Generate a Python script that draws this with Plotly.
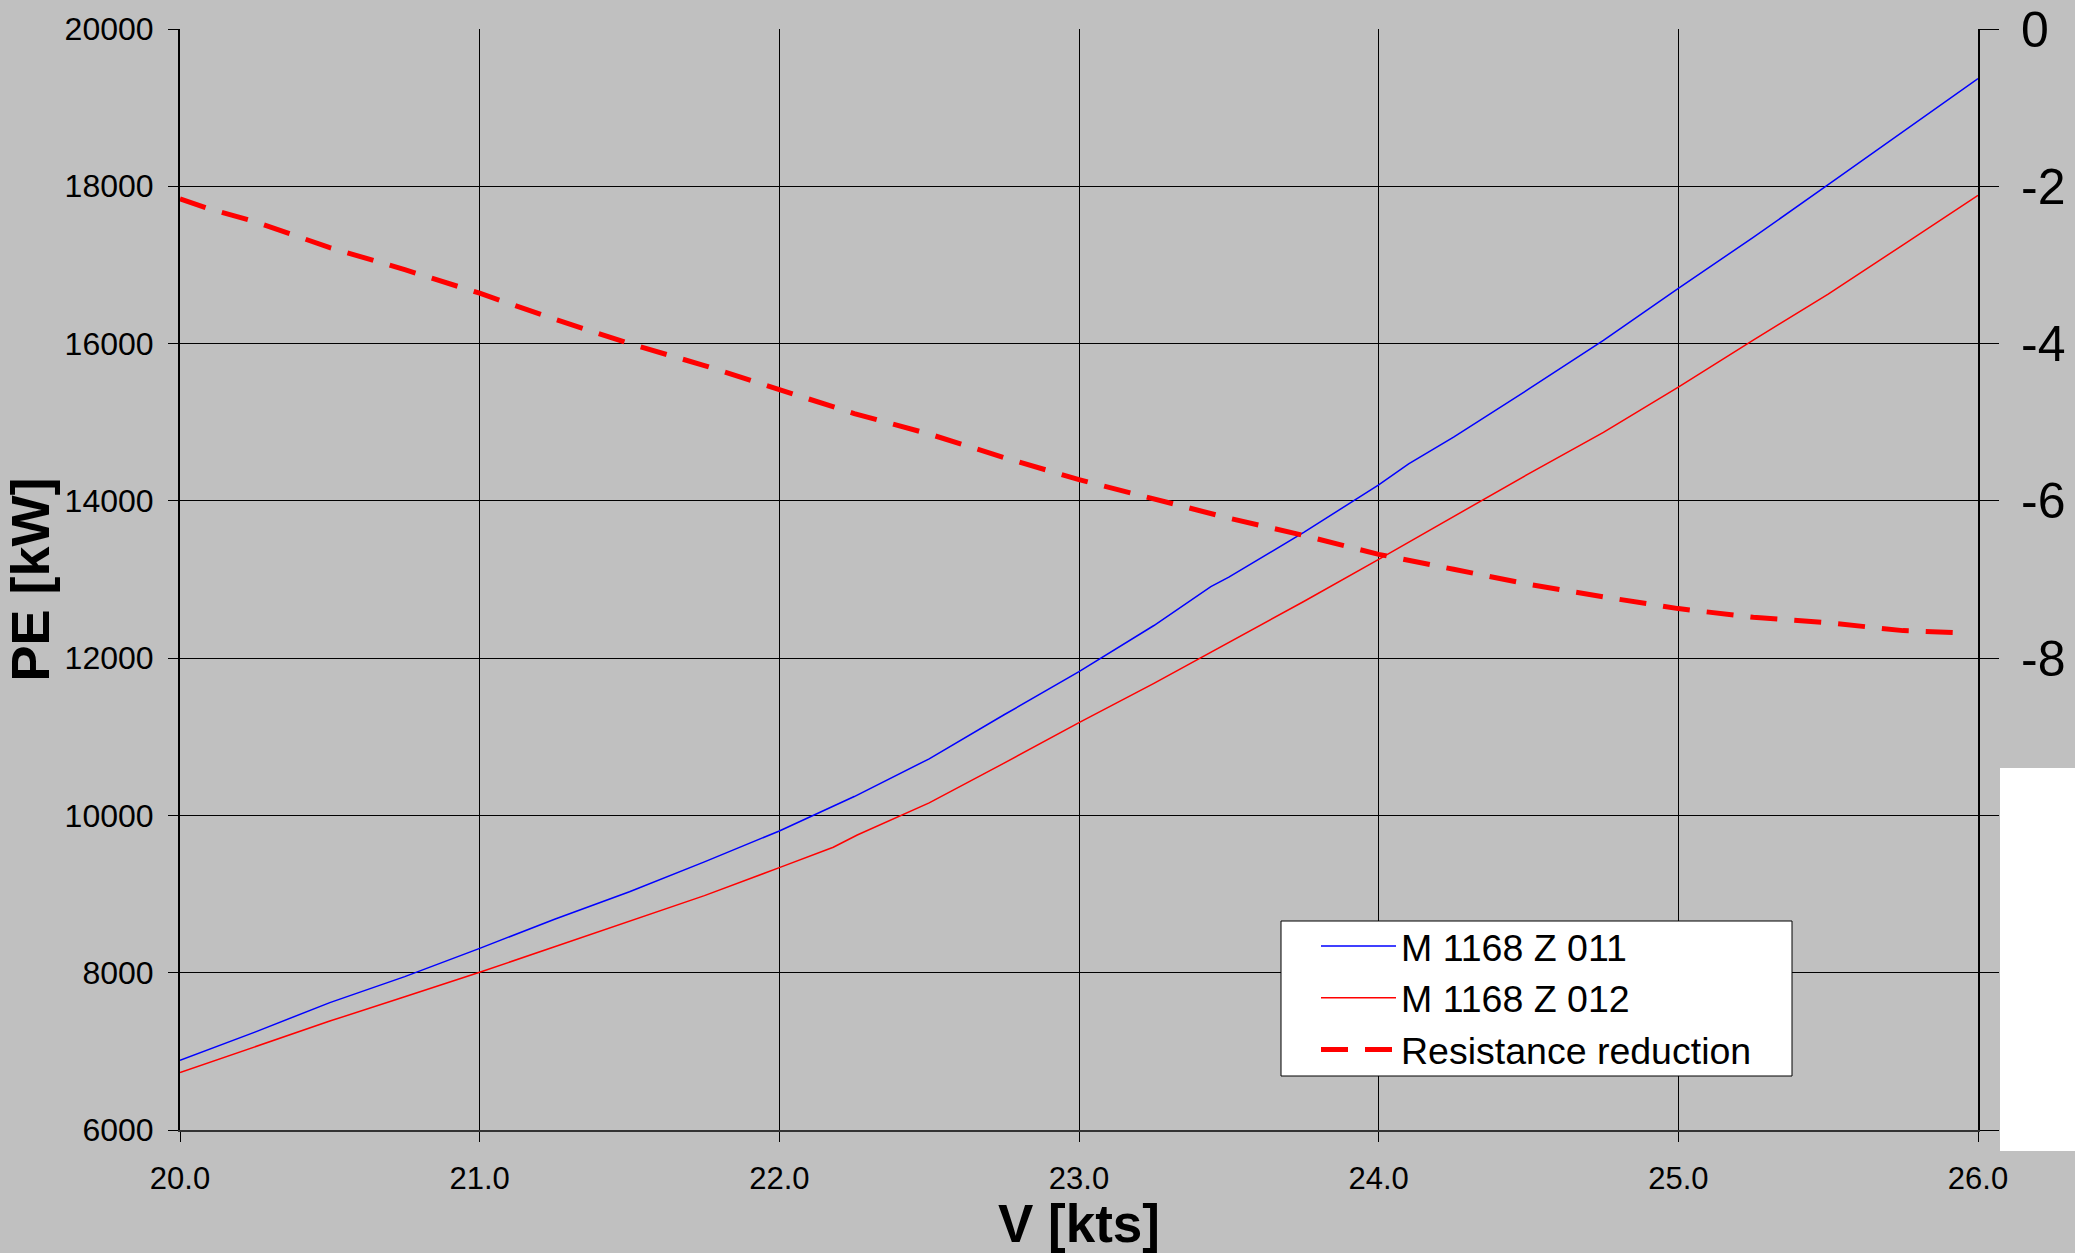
import plotly.graph_objects as go

# ---- data ----
v_z011 = [20.0, 20.25, 20.5, 20.75, 21.0, 21.25, 21.5, 21.75, 22.0, 22.18, 22.25, 22.5, 22.75,
          23.0, 23.16, 23.25, 23.44, 23.5, 23.75, 24.0, 24.1, 24.25, 24.5, 24.75, 25.0, 25.25,
          25.5, 25.75, 26.0]
pe_z011 = [6885, 7245, 7620, 7950, 8310, 8680, 9030, 9410, 9802, 10120, 10240, 10720, 11280,
           11828, 12210, 12415, 12910, 13030, 13600, 14202, 14470, 14810, 15420, 16040, 16703, 17350,
           18020, 18695, 19370]

v_z012 = [20.0, 20.25, 20.5, 20.75, 21.0, 21.25, 21.5, 21.75, 22.0, 22.1, 22.18, 22.26, 22.5,
          22.75, 23.0, 23.25, 23.5, 23.75, 24.0, 24.25, 24.5, 24.75, 25.0, 25.25, 25.5, 25.75, 26.0]
pe_z012 = [6730, 7060, 7385, 7695, 8005, 8330, 8660, 8980, 9336, 9475, 9595, 9751, 10160,
           10665, 11179, 11680, 12195, 12720, 13257, 13805, 14343, 14870, 15445, 16045, 16630, 17255, 17885]

v_red = [20.0, 20.1, 20.25, 20.5, 20.75, 21.0, 21.25, 21.5, 21.75, 22.0, 22.25, 22.5, 22.75,
         23.0, 23.25, 23.5, 23.75, 24.0, 24.25, 24.5, 24.75, 25.0, 25.25, 25.5, 25.75, 25.95]
resistance_reduction = [-2.16, -2.29, -2.45, -2.78, -3.06, -3.36, -3.69, -4.00, -4.28, -4.58, -4.89,
                        -5.15, -5.45, -5.73, -5.98, -6.22, -6.44, -6.68, -6.87, -7.06, -7.22, -7.37,
                        -7.48, -7.55, -7.65, -7.68]

x_ticks = [20, 21, 22, 23, 24, 25, 26]
y_ticks = [6000, 8000, 10000, 12000, 14000, 16000, 18000, 20000]
y_ticktext = ["6000", "8000", "10000", "12000", "14000", "16000", "18000", "20000"]
y2_ticks = [-14, -12, -10, -8, -6, -4, -2, 0]
y2_ticktext = ["", "", "", "-8", "-6", "-4", "-2", "0"]

FONT = "Liberation Sans, Arial, sans-serif"
BG = "#C0C0C0"

fig = go.Figure()
fig.add_trace(go.Scatter(x=v_z011, y=pe_z011, mode="lines", name="M 1168 Z 011",
                         line=dict(color="#0000FF", width=1.5)))
fig.add_trace(go.Scatter(x=v_z012, y=pe_z012, mode="lines", name="M 1168 Z 012",
                         line=dict(color="#FF0000", width=1.5)))
fig.add_trace(go.Scatter(x=v_red, y=resistance_reduction, mode="lines", name="Resistance reduction",
                         yaxis="y2", line=dict(color="#FF0000", width=5, dash="27px,17px")))

W, H = 2075, 1253
L, R, T, B = 180, 97, 29, 123
pw, ph = W - L - R, H - T - B

def px_x(px):
    return (px - L) / pw

def px_y(py):
    return (H - B - py) / ph

fig.update_layout(
    width=W, height=H,
    margin=dict(l=L, r=R, t=T, b=B, pad=0, autoexpand=False),
    paper_bgcolor=BG, plot_bgcolor=BG,
    font=dict(family=FONT, color="black"),
    showlegend=True,
    legend=dict(x=px_x(1316), y=px_y(915), xanchor="left", yanchor="top",
                bgcolor="rgba(0,0,0,0)", borderwidth=0,
                font=dict(family=FONT, size=37.5, color="black"),
                itemwidth=75, tracegroupgap=0),
    xaxis=dict(range=[20, 26], tickvals=x_ticks, tickformat=".1f", automargin=False,
               showgrid=True, gridcolor="black", gridwidth=1,
               showline=True, linecolor="#333333", linewidth=2,
               ticks="outside", ticklen=10, tickcolor="black", tickwidth=1,
               tickfont=dict(family=FONT, size=31, color="black"),
               ticklabelstandoff=10, zeroline=False,
               title=dict(text="V [kts]", font=dict(family=FONT, size=53, color="black", weight="bold"),
                          standoff=16)),
    yaxis=dict(range=[6000, 20000], tickvals=y_ticks, ticktext=y_ticktext, automargin=False,
               showgrid=True, gridcolor="black", gridwidth=1,
               showline=True, linecolor="black", linewidth=2,
               ticks="outside", ticklen=10, tickcolor="black", tickwidth=1,
               tickfont=dict(family=FONT, size=32, color="black"),
               ticklabelstandoff=8, zeroline=False,
               title=dict(text="PE [kW]", font=dict(family=FONT, size=54, color="black", weight="bold"),
                          standoff=2)),
    yaxis2=dict(range=[-14, 0], tickvals=y2_ticks, ticktext=y2_ticktext, overlaying="y", side="right",
                automargin=False, showgrid=False, zeroline=False,
                showline=True, linecolor="black", linewidth=2,
                ticks="outside", ticklen=19, tickcolor="black", tickwidth=1,
                tickfont=dict(family=FONT, size=50, color="black"),
                ticklabelstandoff=12),
    shapes=[
        # legend box
        dict(type="rect", xref="paper", yref="paper",
             x0=px_x(1281), x1=px_x(1792), y0=px_y(1076), y1=px_y(921),
             fillcolor="white", line=dict(color="black", width=1), layer="above"),
        # white panel on the right edge
        dict(type="rect", xref="paper", yref="paper",
             x0=px_x(2000), x1=px_x(2080), y0=px_y(1151), y1=px_y(768),
             fillcolor="white", line=dict(width=0), layer="above"),
    ],
)

fig.write_html("out.html")
